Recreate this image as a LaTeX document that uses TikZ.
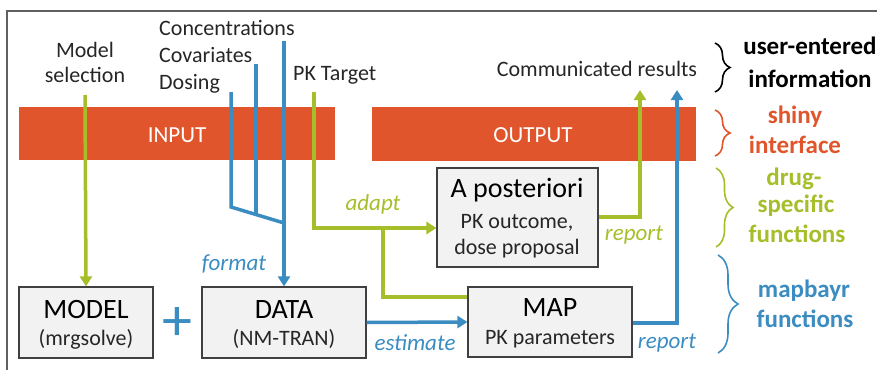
\documentclass[tikz,border=0pt]{standalone}
\usepackage{fontspec}
\setmainfont{Carlito}
\usetikzlibrary{arrows.meta,decorations.pathreplacing,calc}
\definecolor{ored}{HTML}{E0552B}
\definecolor{lgreen}{HTML}{A5BE2A}
\definecolor{lblue}{HTML}{3A8CC1}
\definecolor{boxgray}{HTML}{F2F2F2}
\definecolor{edgegray}{HTML}{404040}
\definecolor{framegray}{HTML}{606060}
\begin{document}
\begin{tikzpicture}[x=1pt,y=-1pt,
 txt/.style={inner sep=0pt, anchor=base, font=\fontsize{22}{26}\selectfont, text=black!85},
 bigtxt/.style={inner sep=0pt, anchor=base, font=\fontsize{28}{32}\selectfont, text=black},
 itxt/.style={inner sep=0pt, anchor=base, font=\fontsize{23}{27}\selectfont\itshape},
 btxt/.style={inner sep=0pt, anchor=base, font=\fontsize{25}{30}\selectfont\bfseries},
 bartxt/.style={inner sep=0pt, anchor=base, font=\fontsize{23}{27}\selectfont, text=white},
 box/.style={draw=edgegray, fill=boxgray, line width=1.2pt, inner sep=0pt},
 bar/.style={fill=ored, inner sep=0pt},
 conn/.style={line width=3.5pt},
 gline/.style={conn, draw=lgreen},
 bline/.style={conn, draw=lblue},
 garr/.style={gline, -{Triangle[length=10pt,width=12pt]}},
 barr/.style={bline, -{Triangle[length=10pt,width=12pt]}},
 brc/.style={decorate, decoration={brace, amplitude=#1}, line width=1.6pt},
 brc/.default=12pt
]
\useasboundingbox (0,0) rectangle (877,369);
\draw[framegray, line width=1.2pt] (7,375) -- (7,11) -- (885,11);

% bars
\node[bar, minimum width=316pt, minimum height=53pt] (inbar) at (177,133.5) {};
\node[bar, minimum width=324pt, minimum height=54pt] (outbar) at (534,134) {};
\node[bartxt] (intxt) at (177,142) {INPUT};
\node[bartxt] (outtxt) at (533,142) {OUTPUT};

% boxes
\node[box, minimum width=134pt, minimum height=71pt] (model) at (86,322.5) {};
\node[box, minimum width=164pt, minimum height=71pt] (data) at (284,322.5) {};
\node[box, minimum width=164pt, minimum height=70pt] (map) at (550,322) {};
\node[box, minimum width=161pt, minimum height=99pt] (apost) at (517.5,217.5) {};

\node[bigtxt] (modelt) at (86,318) {MODEL};
\node[txt] (models) at (86,345) {(mrgsolve)};
\node[bigtxt] (datat) at (284,318) {DATA};
\node[txt] (datas) at (284,345) {(NM-TRAN)};
\node[bigtxt] (mapt) at (550,316) {MAP};
\node[txt] (maps) at (550,344) {PK parameters};
\node[bigtxt] (apostt) at (517,197) {A posteriori};
\node[txt] (aposts1) at (517,228) {PK outcome,};
\node[txt] (aposts2) at (517,254) {dose proposal};

\node[inner sep=0pt, font=\fontsize{60}{60}\selectfont, text=lblue] (plus) at (177,324) {+};

% top texts
\node[txt] (msel1) at (85,57) {Model};
\node[txt] (msel2) at (85,82) {selection};
\node[txt, anchor=base west] (conc) at (159,36) {Concentrations};
\node[txt, anchor=base west] (cov) at (159,63) {Covariates};
\node[txt, anchor=base west] (dos) at (159,89) {Dosing};
\node[txt, anchor=base west] (pkt) at (293,81) {PK Target};
\node[txt] (comm) at (597,77) {Communicated results};

% coordinates for free ends
\coordinate (mselend) at (85,95);
\coordinate (dosend) at (231,92);
\coordinate (covend) at (256,64);
\coordinate (concend) at (284,41);
\coordinate (pktend) at (314,92);
\coordinate (j1) at (231,207);
\coordinate (j2) at (284,223);
\coordinate (j3) at (256,214.5);
\coordinate (gcorner) at (314,228);
\coordinate (gbranch) at (383,228);
\coordinate (greport) at (640,90);
\coordinate (breport) at (677,90);

% connectors
\draw[garr] (mselend) -- (model.north);
\draw[bline] (dosend) -- (j1) -- (j2);
\draw[bline] (covend) -- (j3);
\draw[barr] (concend) -- (data.north);
\draw[garr] (pktend) -- (gcorner) -- ($(apost.west)+(0,10.5)$);
\draw[gline] (gbranch) |- ($(map.west)+(0,-25)$);
\draw[garr] ($(apost.east)+(0,-0.5)$) -| (greport);
\draw[barr] (data.east) -- (map.west);
\draw[barr] ($(map.east)+(0,1)$) -| (breport);

% italic labels
\node[itxt, text=lblue] (fmt) at (234,270) {format};
\node[itxt, text=lgreen] (adapt) at (373,210) {adapt};
\node[itxt, text=lblue] (est) at (415,350) {estimate};
\node[itxt, text=lgreen] (rep1) at (634,240) {report};
\node[itxt, text=lblue] (rep2) at (667,348) {report};

% braces
\draw[brc=15pt, black] (715,43) -- (715,92);
\draw[brc=15pt, ored] (715,110) -- (715,156);
\draw[brc=17pt, lgreen] (716,168) -- (716,247);
\draw[brc=20pt, lblue] (718,255) -- (718,353);

% right labels
\node[btxt, text=black] (ue1) at (810,55) {user-entered};
\node[btxt, text=black] (ue2) at (810,87) {information};
\node[btxt, text=ored] (sh1) at (795,123) {shiny};
\node[btxt, text=ored] (sh2) at (795,153) {interface};
\node[btxt, text=lgreen] (dr1) at (794,185) {drug-};
\node[btxt, text=lgreen] (dr2) at (796,212) {specific};
\node[btxt, text=lgreen] (dr3) at (797,242) {functions};
\node[btxt, text=lblue] (mb1) at (804,297) {mapbayr};
\node[btxt, text=lblue] (mb2) at (805,327) {functions};
\end{tikzpicture}
\end{document}
